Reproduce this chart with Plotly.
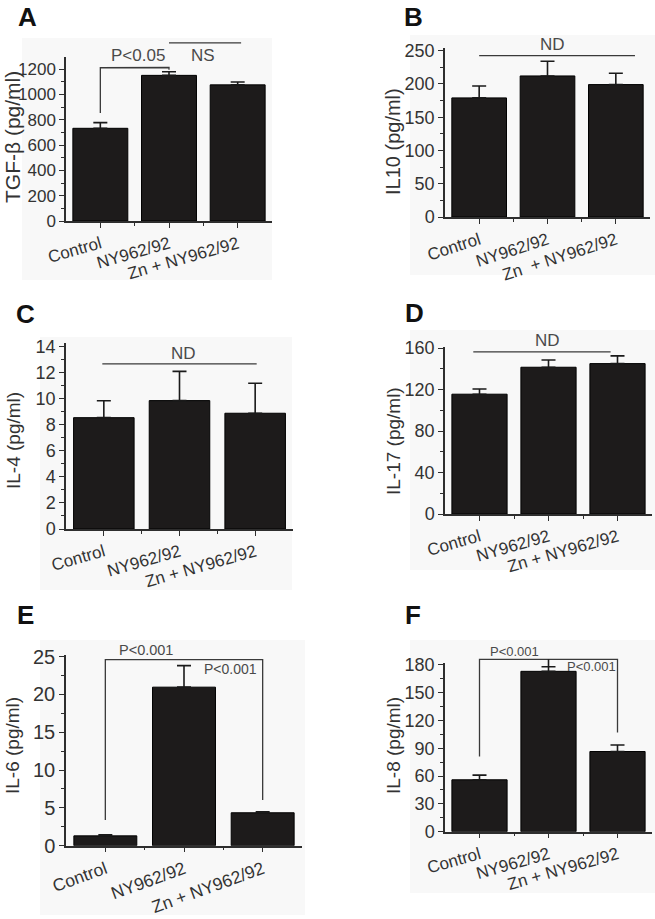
import plotly.graph_objects as go

W, H = 655, 919

# ---------------- data ----------------
categories = ["Control", "NY962/92", "Zn + NY962/92"]
tick_labels = ["Control", "NY962/92", "Zn + NY962/92"]
tick_labels_b = ["Control", "NY962/92", "Zn\u00a0 + NY962/92"]

tgf_mean = [732, 1150, 1075]
tgf_err = [45, 28, 22]

il10_mean = [179, 212, 199]
il10_err = [18, 22, 17]

il4_mean = [8.56, 9.87, 8.9]
il4_err = [1.3, 2.25, 2.3]

il17_mean = [115.5, 141.5, 145]
il17_err = [5, 7, 7.5]

il6_mean = [1.3, 20.95, 4.35]
il6_err = [0.15, 2.85, 0.12]

il8_mean = [56, 173, 86.5]
il8_err = [5, 5, 7]

# ---------------- styling ----------------
FONT = "Liberation Sans, Arial, sans-serif"
AX = "#2e2e2e"
TXT = "#333333"
ANN = "#4a4a4a"
BAR = "#1d1b1b"

panels = [
    dict(letter="A", mean=tgf_mean, err=tgf_err, labels=tick_labels,
         ytitle="TGF-\u03b2 (pg/ml)", tsize=21, ymax=1295, dtick=200, minor=100,
         xpx=(66, 272), ypx=(57, 221), yfont=17, xfont=17, angle=-16,
         title_xy=(12, 137), letter_xy=(27, 17), bg=(22, 38, 272, 280)),
    dict(letter="B", mean=il10_mean, err=il10_err, labels=tick_labels_b,
         ytitle="IL10 (pg/ml)", tsize=20, ymax=254, dtick=50, minor=25,
         xpx=(445, 650), ypx=(48, 217), yfont=18, xfont=17, angle=-18,
         title_xy=(393, 142), letter_xy=(413, 17), bg=(410, 35, 655, 275)),
    dict(letter="C", mean=il4_mean, err=il4_err, labels=tick_labels,
         ytitle="IL-4 (pg/ml)", tsize=19, ymax=14.3, dtick=2, minor=1,
         xpx=(66, 293), ypx=(343, 529), yfont=18, xfont=17, angle=-16,
         title_xy=(13, 441), letter_xy=(25, 314), bg=(40, 337, 292, 590)),
    dict(letter="D", mean=il17_mean, err=il17_err, labels=tick_labels,
         ytitle="IL-17 (pg/ml)", tsize=19, ymax=161.3, dtick=40, minor=20,
         xpx=(445, 652), ypx=(346.7, 514), yfont=18, xfont=17, angle=-16,
         title_xy=(393, 441), letter_xy=(415, 313), bg=(410, 330, 655, 570)),
    dict(letter="E", mean=il6_mean, err=il6_err, labels=tick_labels,
         ytitle="IL-6 (pg/ml)", tsize=19, ymax=25.2, dtick=5, minor=2.5,
         xpx=(66, 302), ypx=(655, 845.7), yfont=20, xfont=17.5, angle=-20,
         title_xy=(12, 746), letter_xy=(25, 615), bg=(40, 640, 305, 915)),
    dict(letter="F", mean=il8_mean, err=il8_err, labels=tick_labels,
         ytitle="IL-8 (pg/ml)", tsize=19, ymax=182, dtick=30, minor=15,
         xpx=(445, 652), ypx=(663, 831.7), yfont=18, xfont=17, angle=-16,
         title_xy=(393, 746), letter_xy=(413, 615), bg=(410, 640, 655, 893)),
]

fig = go.Figure()
shapes = []
annotations = []


def px_x(x):
    return x / W


def px_y(y):
    return 1 - y / H


for k, p in enumerate(panels):
    n = "" if k == 0 else str(k + 1)
    xa, ya = "x" + n, "y" + n
    fig.add_trace(go.Bar(
        x=[0, 1, 2], y=p["mean"], width=0.8,
        marker=dict(color=BAR, line=dict(color="#000000", width=1)),
        error_y=dict(type="data", array=p["err"], arrayminus=[0, 0, 0],
                     symmetric=False, color="#1a1a1a", thickness=1.6, width=7),
        xaxis=xa, yaxis=ya, showlegend=False, hoverinfo="skip",
    ))
    xkey = "xaxis" + n
    ykey = "yaxis" + n
    fig.layout[xkey] = dict(
        domain=[px_x(p["xpx"][0]), px_x(p["xpx"][1])], automargin=False,
        anchor=ya, range=[-0.5, 2.5], tickmode="array",
        tickvals=[0, 1, 2], ticktext=p["labels"], tickangle=p["angle"],
        showline=True, linecolor=AX, linewidth=1.5, ticks="outside",
        ticklen=5, tickwidth=1.3, tickcolor=AX, showgrid=False, zeroline=False,
        tickfont=dict(family=FONT, size=p["xfont"], color=TXT),
        minor=dict(tickmode="array", tickvals=[0.5, 1.5], ticklen=3,
                   tickcolor=AX, tickwidth=1.2, ticks="outside"),
        fixedrange=True,
    )
    fig.layout[ykey] = dict(
        domain=[px_y(p["ypx"][1]), px_y(p["ypx"][0])], automargin=False,
        anchor=xa, range=[0, p["ymax"]], dtick=p["dtick"], tick0=0,
        showline=True, linecolor=AX, linewidth=1.5, ticks="outside",
        ticklen=5, tickwidth=1.3, tickcolor=AX, showgrid=False, zeroline=False,
        tickfont=dict(family=FONT, size=p["yfont"], color=TXT),
        minor=dict(dtick=p["minor"], ticklen=3, tickcolor=AX, tickwidth=1.2,
                   ticks="outside"),
        fixedrange=True,
    )
    # faint panel background
    x0, y0, x1, y1 = p["bg"]
    shapes.append(dict(type="rect", xref="paper", yref="paper",
                       x0=px_x(x0), x1=px_x(x1), y0=px_y(y1), y1=px_y(y0),
                       fillcolor="#f8f8f8", line=dict(width=0), layer="below"))
    # y title
    annotations.append(dict(xref="paper", yref="paper",
                            x=px_x(p["title_xy"][0]), y=px_y(p["title_xy"][1]),
                            text=p["ytitle"], textangle=-90, showarrow=False,
                            font=dict(family=FONT, size=p["tsize"], color=TXT),
                            xanchor="center", yanchor="middle"))
    # panel letter
    annotations.append(dict(xref="paper", yref="paper",
                            x=px_x(p["letter_xy"][0]), y=px_y(p["letter_xy"][1]),
                            text="<b>%s</b>" % p["letter"], showarrow=False,
                            font=dict(family=FONT, size=26, color="#111111"),
                            xanchor="center", yanchor="middle"))
    p["xref"] = xa + " domain"
    p["yref"] = ya + " domain"


def xd(i):
    return (i + 0.5) / 3.0


def line(p, xs, ys, color="#3a3a3a", width=1.3):
    path = "M " + " L ".join("%f,%f" % (xd(a), b / p["ymax"]) for a, b in zip(xs, ys))
    shapes.append(dict(type="path", xref=p["xref"], yref=p["yref"], path=path,
                       line=dict(color=color, width=width)))


def label(p, x, y, text, size):
    annotations.append(dict(xref=p["xref"], yref=p["yref"], x=xd(x),
                            y=y / p["ymax"], text=text, showarrow=False,
                            font=dict(family=FONT, size=size, color=ANN),
                            xanchor="center", yanchor="middle"))


A, B, C, D, E, F = panels
# A
line(A, [0, 0, 1, 1], [853, 1210, 1212, 1195])
line(A, [1.0, 2.05], [1406, 1406])
label(A, 0.55, 1303, "P<0.05", 17)
label(A, 1.5, 1303, "NS", 17)
# B
line(B, [0, 2.28], [242.5, 242.5])
label(B, 1.08, 259, "ND", 17)
# C
line(C, [-0.02, 2.02], [12.7, 12.7])
label(C, 1.05, 13.5, "ND", 17)
# D
line(D, [-0.09, 1.9], [156.4, 156.4])
label(D, 0.98, 167.7, "ND", 17)
# E
line(E, [0, 0, 2, 2], [3.4, 24.6, 24.6, 6.05])
label(E, 0.52, 25.9, "P<0.001", 14.5)
label(E, 1.59, 23.3, "P<0.001", 14)
# F
line(F, [0, 0, 2, 2], [81, 186, 186, 107])
line(F, [1, 1], [178, 186], color="#1a1a1a", width=1.6)
label(F, 0.5, 194, "P<0.001", 13)
label(F, 1.62, 178, "P<0.001", 13)

fig.update_layout(
    width=W, height=H, margin=dict(l=0, r=0, t=0, b=0, autoexpand=False),
    paper_bgcolor="white", plot_bgcolor="rgba(0,0,0,0)",
    shapes=shapes, annotations=annotations, bargap=0.2,
    font=dict(family=FONT, color=TXT),
)

fig.write_html("out.html", config={"displayModeBar": False},
               post_script="document.body.style.margin='0px';"
                           "document.body.style.overflow='hidden';")
